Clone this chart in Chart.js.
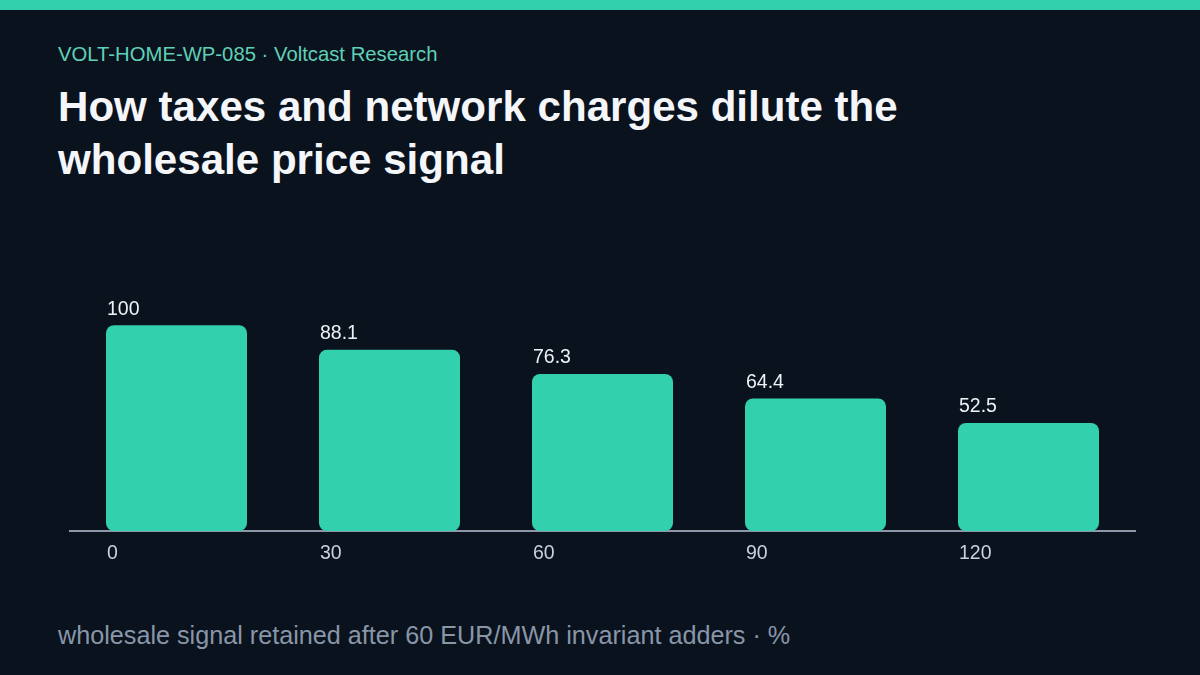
<!DOCTYPE html>
<html><head><meta charset="utf-8">
<script src="https://cdn.jsdelivr.net/npm/chart.js@4"></script>
<style>
html,body{margin:0;padding:0;background:#0a121e;width:1200px;height:675px;overflow:hidden;font-family:"Liberation Sans",Arial,sans-serif;}
#topbar{position:absolute;left:0;top:0;width:1200px;height:10px;background:#32d0ac;}
#sub{position:absolute;left:58px;top:42px;font-size:20.3px;line-height:24px;color:#5fd0b6;white-space:nowrap;}
#title{position:absolute;left:58px;top:80px;font-size:42.1px;line-height:53px;font-weight:bold;color:#f4f6fa;width:1100px;}
#foot{position:absolute;left:58px;top:620px;font-size:25.2px;line-height:30px;color:#8896a8;white-space:nowrap;}
#wrap{position:absolute;left:0;top:220px;width:1200px;height:360px;}
</style></head>
<body>
<div id="topbar"></div>
<div id="sub">VOLT-HOME-WP-085 · Voltcast Research</div>
<div id="title">How taxes and network charges dilute the<br>wholesale price signal</div>
<div id="wrap"><canvas id="c"></canvas></div>
<div id="foot">wholesale signal retained after 60 EUR/MWh invariant adders · %</div>
<script>
const categories = ["0","30","60","90","120"];
const retained = [100, 88.1, 76.3, 64.4, 52.5];

const labelPlugin = {
  id: 'labels',
  afterDatasetsDraw(chart) {
    const ctx = chart.ctx;
    const meta = chart.getDatasetMeta(0);
    const xs = chart.scales.x;
    ctx.save();
    ctx.font = '19.5px "Liberation Sans", Arial, sans-serif';
    ctx.textAlign = 'left';
    ctx.textBaseline = 'middle';
    meta.data.forEach((bar, i) => {
      const left = bar.x - bar.width / 2;
      ctx.fillStyle = '#eef2f6';
      ctx.fillText(String(retained[i]), left + 1, bar.y - 16);
      ctx.fillStyle = '#c9d1dc';
      ctx.fillText(categories[i], left + 1, xs.top + 23);
    });
    ctx.restore();
  }
};

new Chart(document.getElementById('c'), {
  type: 'bar',
  data: {
    labels: categories,
    datasets: [{
      data: retained,
      backgroundColor: '#32d0ac',
      borderRadius: 8,
      borderSkipped: false,
      categoryPercentage: 0.662,
      barPercentage: 1.0
    }]
  },
  options: {
    responsive: true,
    maintainAspectRatio: false,
    animation: false,
    layout: { padding: { left: 70, right: 65, top: 64, bottom: 41 } },
    plugins: { legend: { display: false }, tooltip: { enabled: false } },
    scales: {
      x: {
        grid: { display: false },
        border: { display: true, color: '#8d97aa', width: 2 },
        ticks: { display: false }
      },
      y: {
        display: false,
        min: 0, max: 120
      }
    }
  },
  plugins: [labelPlugin]
});
</script>
</body></html>
